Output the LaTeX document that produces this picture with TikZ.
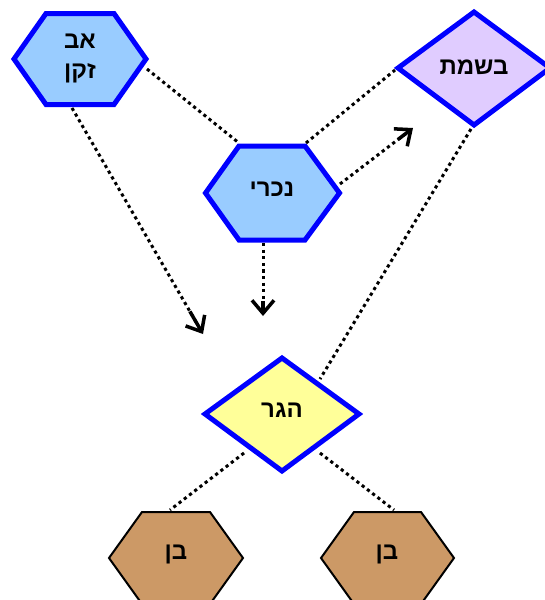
\documentclass[tikz,border=0pt]{standalone}
\usepackage{fontspec}
\setmainfont{Liberation Sans}
\newfontfamily\hebfont[Script=Hebrew]{Liberation Sans Bold}
\TeXXeTstate=1
\usetikzlibrary{arrows.meta,calc}
\definecolor{hexblue}{HTML}{99CCFF}
\definecolor{borderblue}{HTML}{0000FF}
\definecolor{lavender}{HTML}{E0CCFF}
\definecolor{lightyellow}{HTML}{FFFF99}
\definecolor{tanfill}{HTML}{CC9966}
\tikzset{
  bluehex/.style={fill=hexblue,draw=borderblue,line width=5pt,line join=miter},
  lavdiamond/.style={fill=lavender,draw=borderblue,line width=5pt,line join=miter},
  yeldiamond/.style={fill=lightyellow,draw=borderblue,line width=5pt,line join=miter},
  tanhex/.style={fill=tanfill,draw=black,line width=2pt,line join=miter},
  nodetext/.style={font=\hebfont\fontsize{24}{30}\selectfont,align=center,inner sep=0pt},
  link/.style={line width=3pt,dash pattern=on 3.2pt off 3.4pt},
  tiphead/.style={line width=3.5pt,solid,-{Straight Barb[length=13pt,width=22pt,line width=3.5pt,line join=miter]}}
}
\begin{document}
\begin{tikzpicture}[x=1pt,y=-1pt]
\useasboundingbox (0,0) rectangle (544,600);
% shapes
\draw[bluehex] (14,59) -- (46,13.5) -- (114,13.5) -- (146,59) -- (114,104.5) -- (46,104.5) -- cycle;
\draw[bluehex] (205.5,193) -- (239,146) -- (305,146) -- (339.5,193) -- (305,240) -- (239,240) -- cycle;
\draw[lavdiamond] (398,68) -- (474,12) -- (550,68) -- (474,125) -- cycle;
\draw[yeldiamond] (205,414) -- (282,358) -- (359,414) -- (282,471) -- cycle;
\draw[tanhex] (109,558) -- (142,512) -- (210,512) -- (243,558) -- (210,604) -- (142,604) -- cycle;
\draw[tanhex] (321,558) -- (354,512) -- (421,512) -- (454,558) -- (421,604) -- (354,604) -- cycle;
% labels
\node[nodetext] (av) at (80,58) {\beginR אב\endR\\\beginR זקן\endR};
\node[nodetext] (nokri) at (272,189) {\beginR נכרי\endR};
\node[nodetext] (bosmat) at (474,67) {\beginR בשמת\endR};
\node[nodetext] (hagar) at (282,410) {\beginR הגר\endR};
\node[nodetext] (ben1) at (176,554) {\beginR בן\endR};
\node[nodetext] (ben2) at (387,554) {\beginR בן\endR};
% anchor points
\coordinate (avR) at (147,69);
\coordinate (avB) at (72,108);
\coordinate (nokTL) at (239,143);
\coordinate (nokTR) at (306,143);
\coordinate (nokR) at (340,184);
\coordinate (nokB) at (263,243);
\coordinate (bosL) at (395,70);
\coordinate (bosB) at (471,129);
\coordinate (hagTR) at (320,379);
\coordinate (hagBL) at (244,453);
\coordinate (hagBR) at (320,453);
\coordinate (ben1T) at (170,510);
\coordinate (ben2T) at (394,510);
\coordinate (tipA) at (203,334);
\coordinate (tipB) at (263,316);
\coordinate (tipC) at (413,128);
% connectors
\draw[link] (avR) -- (nokTL);
\draw[link] (nokTR) -- (bosL);
\draw[link] (bosB) -- (hagTR);
\draw[link] (hagBL) -- (ben1T);
\draw[link] (hagBR) -- (ben2T);
\draw[link] (avB) -- ($(avB)!0.96!(tipA)$);
\draw[link] (nokB) -- ($(nokB)!0.92!(tipB)$);
\draw[link] (nokR) -- ($(nokR)!0.92!(tipC)$);
\draw[tiphead] ($(avB)!0.9!(tipA)$) -- (tipA);
\draw[tiphead] ($(nokB)!0.8!(tipB)$) -- (tipB);
\draw[tiphead] ($(nokR)!0.8!(tipC)$) -- (tipC);
\end{tikzpicture}
\end{document}
